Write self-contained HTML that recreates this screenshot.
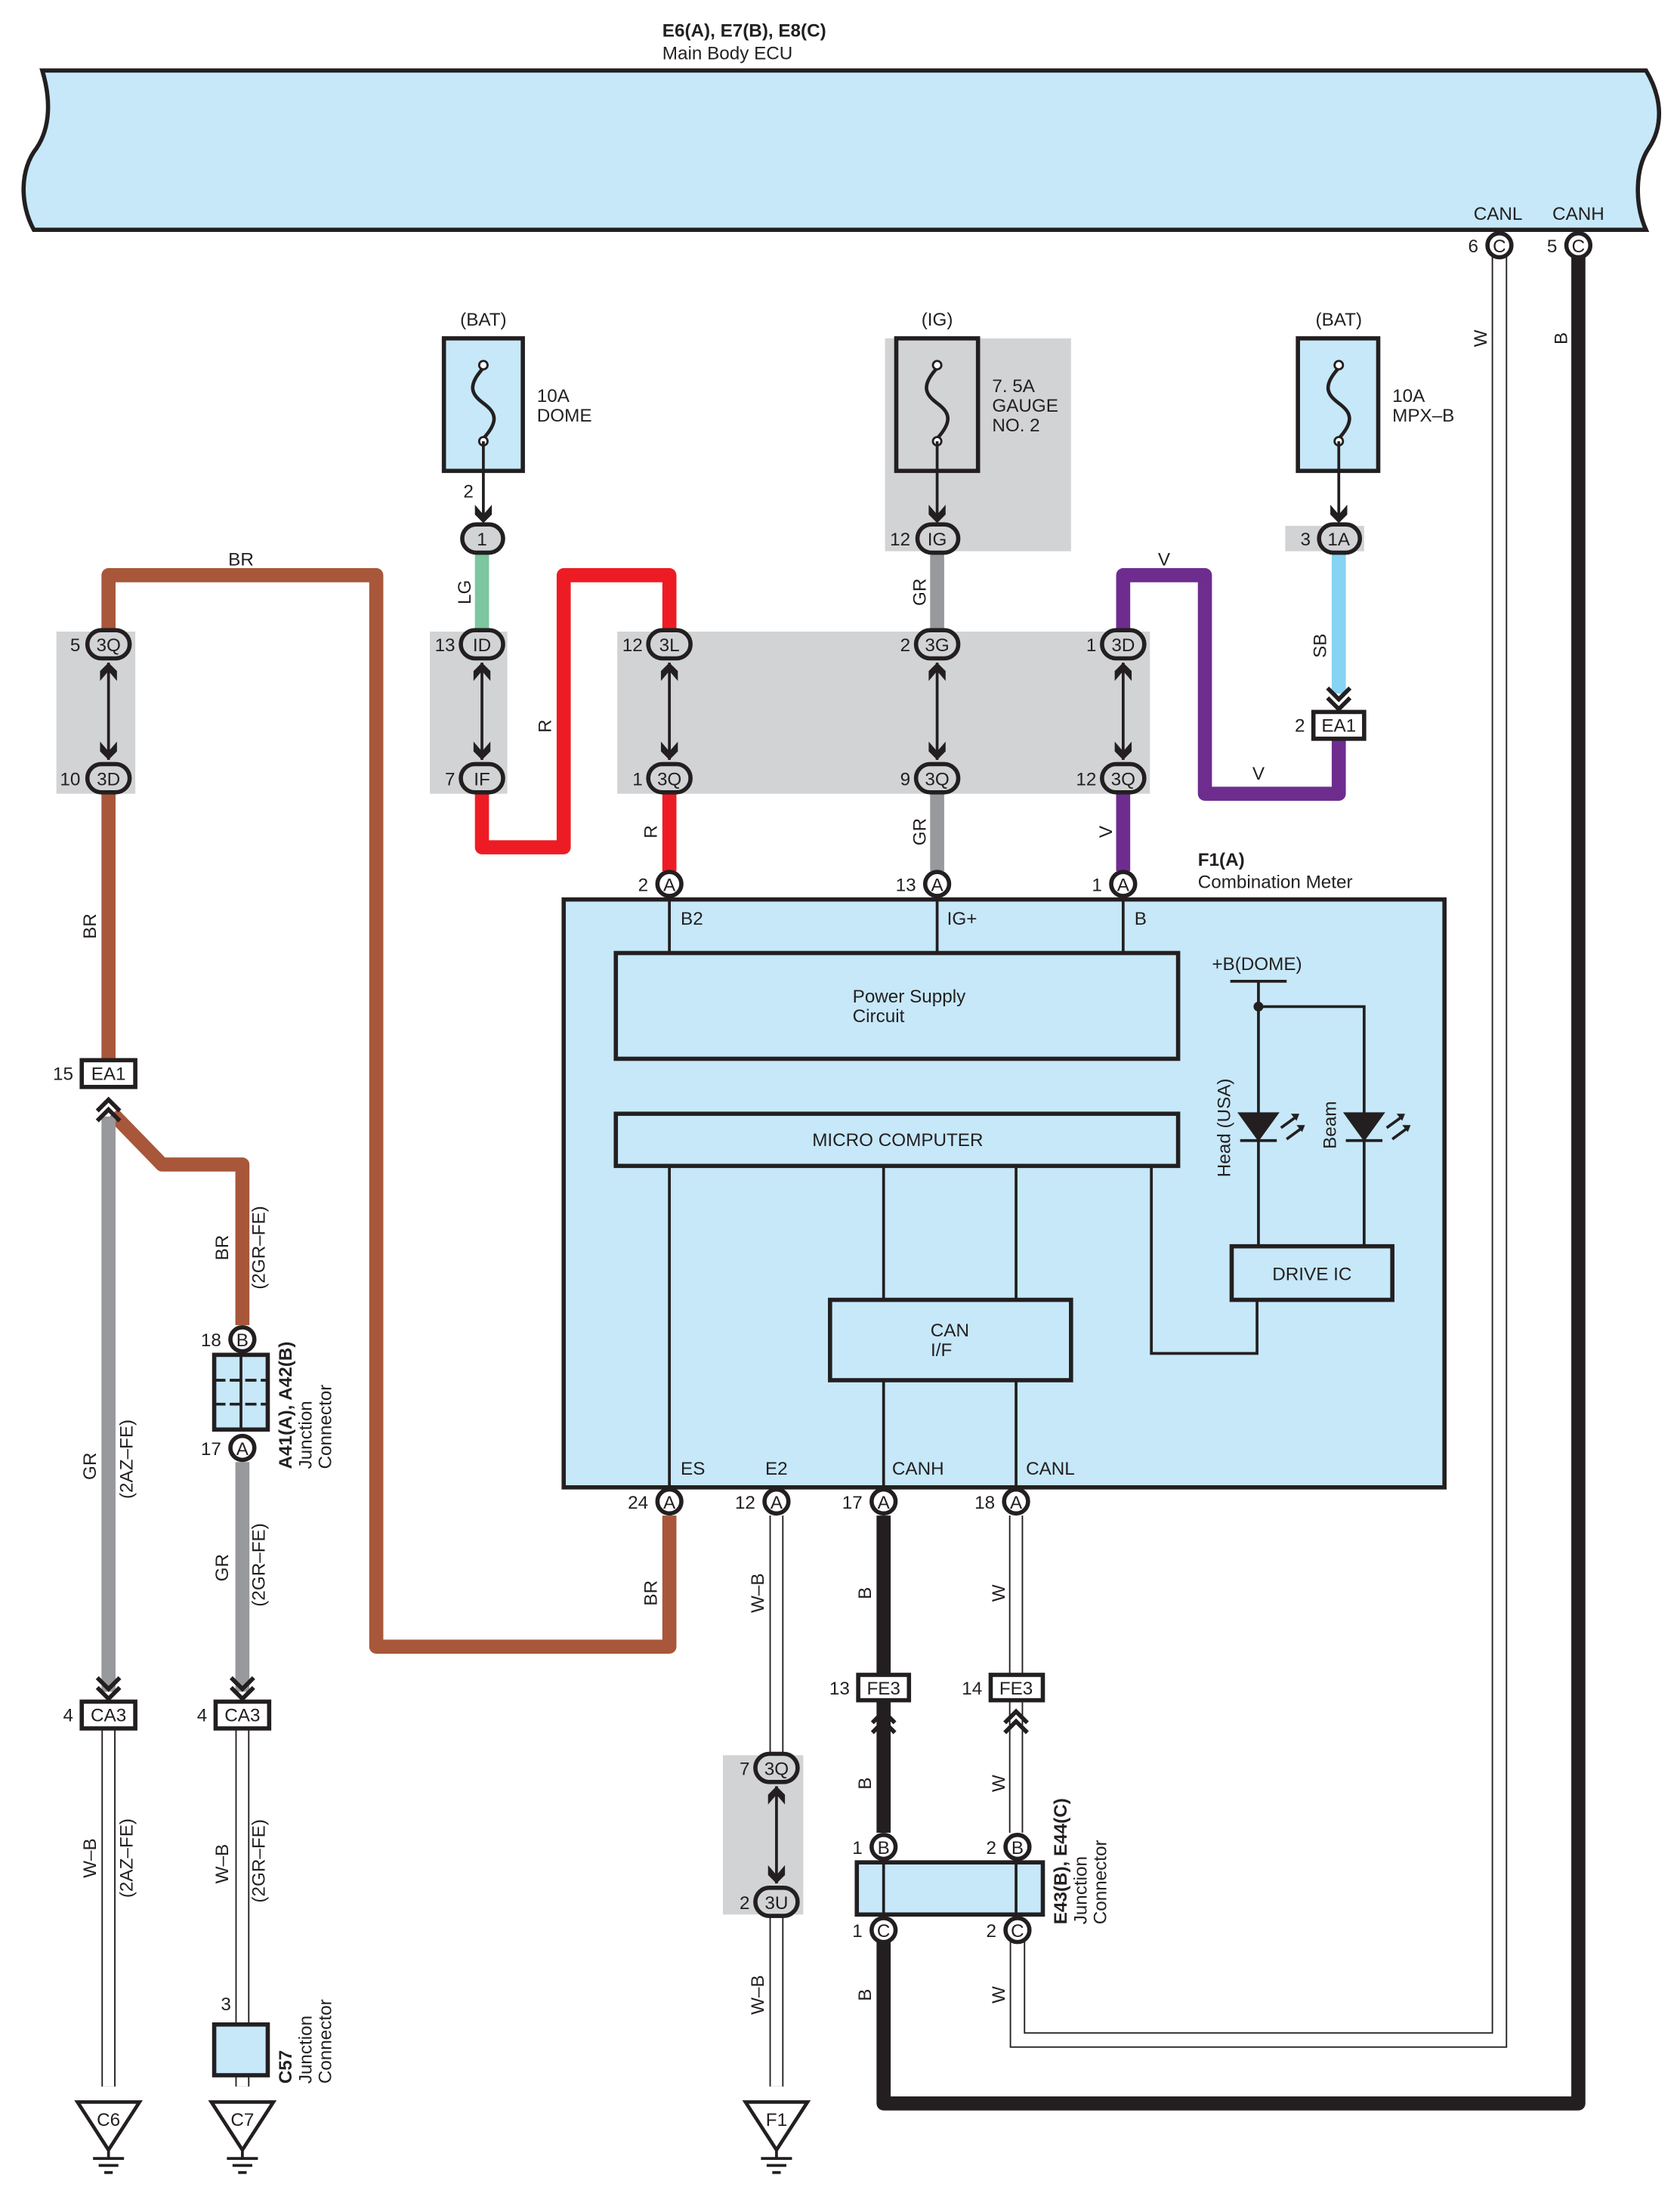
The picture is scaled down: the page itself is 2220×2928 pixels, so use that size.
<!DOCTYPE html>
<html><head><meta charset="utf-8"><style>
html,body{margin:0;padding:0;background:#fff}
svg{display:block}
text{font-family:"Liberation Sans",sans-serif;font-size:13px;fill:#231f20}
.c{text-anchor:middle}
.e{text-anchor:end}
.b{font-weight:bold}
</style></head><body>
<svg width="2220" height="2928" viewBox="0 0 1190 1569" preserveAspectRatio="none" xmlns="http://www.w3.org/2000/svg">
<defs>
<g id="dn"><path d="M-6,-10 L0,-3 L6,-10 L6,-3 L0,3 L-6,-3Z" fill="#231f20"/></g>
<g id="up"><path d="M-6,10 L0,3 L6,10 L6,3 L0,-3 L-6,3Z" fill="#231f20"/></g>
<g id="chd"><path d="M-8,-12 L0,-4 L8,-12 M-8,-5 L0,3 L8,-5" fill="none" stroke="#231f20" stroke-width="3"/></g>
<g id="chu"><path d="M-8,12 L0,4 L8,12 M-8,5 L0,-3 L8,5" fill="none" stroke="#231f20" stroke-width="3"/></g>
<g id="gnd"><path d="M-22,0 L22,0 L0,34Z" fill="#fff" stroke="#231f20" stroke-width="2.5"/><path d="M0,34 V40 M-11,40 H11 M-7,45 H7 M-3,50 H3" stroke="#231f20" stroke-width="2"/></g>
<g id="fuse"><path d="M0,-25 C-12,-12 -8,-6 0,0 C8,6 12,12 0,25" fill="none" stroke="#231f20" stroke-width="2.5"/><circle cx="0" cy="-27" r="3" fill="#fff" stroke="#231f20" stroke-width="1.5"/><circle cx="0" cy="27" r="3" fill="#fff" stroke="#231f20" stroke-width="1.5"/></g>
</defs>

<!-- ECU -->
<text x="470" y="26" class="b">E6(A), E7(B), E8(C)</text>
<text x="470" y="42">Main Body ECU</text>
<path d="M30,50 H1168 C1180,70 1180,90 1170,105 C1160,120 1160,145 1168,163 H24 C14,145 14,120 26,105 C36,90 36,70 30,50Z" fill="#c6e8f9" stroke="#231f20" stroke-width="3"/>
<text x="1063" y="156" class="c">CANL</text>
<text x="1120" y="156" class="c">CANH</text>

<!-- CAN W & B wires -->
<path d="M1064,180 V1447 H722 V1375" fill="none" stroke="#231f20" stroke-width="11"/>
<path d="M1064,180 V1447 H722 V1375" fill="none" stroke="#fff" stroke-width="9"/>
<path d="M1120,180 V1492 H627 V1375" fill="none" stroke="#231f20" stroke-width="10" stroke-linejoin="round"/>
<text transform="translate(1055,240) rotate(-90)" class="c">W</text>
<text transform="translate(1112,240) rotate(-90)" class="c">B</text>
<circle cx="1064" cy="174" r="8.5" fill="#fff" stroke="#231f20" stroke-width="3"/><text x="1064" y="179" class="c">C</text><text x="1049" y="179" class="e">6</text>
<circle cx="1120" cy="174" r="8.5" fill="#fff" stroke="#231f20" stroke-width="3"/><text x="1120" y="179" class="c">C</text><text x="1105" y="179" class="e">5</text>

<!-- gray bands -->
<rect x="628" y="240" width="132" height="151" fill="#d2d3d5"/>
<rect x="912" y="373" width="56" height="18" fill="#d2d3d5"/>
<rect x="40" y="448" width="56" height="115" fill="#d2d3d5"/>
<rect x="305" y="448" width="55" height="115" fill="#d2d3d5"/>
<rect x="438" y="448" width="378" height="115" fill="#d2d3d5"/>
<rect x="513" y="1245" width="57" height="113" fill="#d2d3d5"/>

<!-- fuses -->
<text x="343" y="231" class="c">(BAT)</text>
<rect x="315" y="240" width="56" height="94" fill="#c6e8f9" stroke="#231f20" stroke-width="3"/>
<use href="#fuse" x="343" y="286"/>
<text x="381" y="285">10A</text><text x="381" y="299">DOME</text>
<line x1="343" y1="313" x2="343" y2="368" stroke="#231f20" stroke-width="2"/>
<use href="#dn" x="343" y="368"/>
<text x="336" y="353" class="e">2</text>

<text x="665" y="231" class="c">(IG)</text>
<rect x="636" y="240" width="58" height="94" fill="#d2d3d5" stroke="#231f20" stroke-width="3"/>
<use href="#fuse" x="665" y="286"/>
<text x="704" y="278">7. 5A</text><text x="704" y="292">GAUGE</text><text x="704" y="306">NO. 2</text>
<line x1="665" y1="313" x2="665" y2="368" stroke="#231f20" stroke-width="2"/>
<use href="#dn" x="665" y="368"/>

<text x="950" y="231" class="c">(BAT)</text>
<rect x="921" y="240" width="57" height="94" fill="#c6e8f9" stroke="#231f20" stroke-width="3"/>
<use href="#fuse" x="950" y="286"/>
<text x="988" y="285">10A</text><text x="988" y="299">MPX–B</text>
<line x1="950" y1="313" x2="950" y2="368" stroke="#231f20" stroke-width="2"/>
<use href="#dn" x="950" y="368"/>

<!-- colored wires -->
<g fill="none" stroke-width="10" stroke-linejoin="round">
<path d="M342,392 V448" stroke="#7cc6a0"/>
<path d="M665,392 V448" stroke="#98999c"/>
<path d="M665,562 V618" stroke="#98999c"/>
<path d="M950,392 V492" stroke="#86d3f3"/>
<path d="M797,448 V408 H855 V563 H950 V524" stroke="#6e2d8e"/>
<path d="M797,562 V618" stroke="#6e2d8e"/>
<path d="M342,562 V601 H400 V408 H475 V448" stroke="#ed1c24"/>
<path d="M475,562 V618" stroke="#ed1c24"/>
<path d="M77,448 V408 H267 V1168 H475 V1075" stroke="#a8573a"/>
<path d="M77,562 V752" stroke="#a8573a"/>
<path d="M80,790 L115,826 H172 V940" stroke="#a8573a"/>
<path d="M77,792 V1200" stroke="#98999c"/>
<path d="M172,1037 V1200" stroke="#98999c"/>
</g>
<!-- white wires -->
<g fill="none" stroke-linejoin="miter">
<path d="M77,1226 V1480 M172,1226 V1436 M172,1472 V1480 M551,1075 V1244 M551,1358 V1480 M721,1075 V1188 M721,1206 V1300" stroke="#231f20" stroke-width="10"/>
<path d="M77,1226 V1480 M172,1226 V1436 M172,1472 V1480 M551,1075 V1244 M551,1358 V1480 M721,1075 V1188 M721,1206 V1300" stroke="#fff" stroke-width="8"/>
<path d="M627,1075 V1300" stroke="#231f20" stroke-width="10"/>
</g>

<!-- ovals -->
<g stroke="#231f20" stroke-width="3" fill="#d2d3d5">
<rect x="328" y="372" width="29" height="20" rx="10"/>
<rect x="651" y="372" width="29" height="20" rx="10"/>
<rect x="936" y="372" width="29" height="20" rx="10"/>
<rect x="62" y="447" width="30" height="20" rx="10"/><rect x="62" y="542" width="30" height="20" rx="10"/>
<rect x="327" y="447" width="30" height="20" rx="10"/><rect x="327" y="542" width="30" height="20" rx="10"/>
<rect x="460" y="447" width="30" height="20" rx="10"/><rect x="460" y="542" width="30" height="20" rx="10"/>
<rect x="650" y="447" width="30" height="20" rx="10"/><rect x="650" y="542" width="30" height="20" rx="10"/>
<rect x="782" y="447" width="30" height="20" rx="10"/><rect x="782" y="542" width="30" height="20" rx="10"/>
<rect x="536" y="1244" width="30" height="20" rx="10"/><rect x="536" y="1339" width="30" height="20" rx="10"/>
</g>
<g>
<text x="342" y="387" class="c">1</text>
<text x="665" y="387" class="c">IG</text><text x="646" y="387" class="e">12</text>
<text x="950" y="387" class="c">1A</text><text x="930" y="387" class="e">3</text>
<text x="77" y="462" class="c">3Q</text><text x="57" y="462" class="e">5</text>
<text x="77" y="557" class="c">3D</text><text x="57" y="557" class="e">10</text>
<text x="342" y="462" class="c">ID</text><text x="323" y="462" class="e">13</text>
<text x="342" y="557" class="c">IF</text><text x="323" y="557" class="e">7</text>
<text x="475" y="462" class="c">3L</text><text x="456" y="462" class="e">12</text>
<text x="475" y="557" class="c">3Q</text><text x="456" y="557" class="e">1</text>
<text x="665" y="462" class="c">3G</text><text x="646" y="462" class="e">2</text>
<text x="665" y="557" class="c">3Q</text><text x="646" y="557" class="e">9</text>
<text x="797" y="462" class="c">3D</text><text x="778" y="462" class="e">1</text>
<text x="797" y="557" class="c">3Q</text><text x="778" y="557" class="e">12</text>
<text x="551" y="1259" class="c">3Q</text><text x="532" y="1259" class="e">7</text>
<text x="551" y="1354" class="c">3U</text><text x="532" y="1354" class="e">2</text>
</g>
<!-- double arrows -->
<g stroke="#231f20" stroke-width="2">
<line x1="77" y1="470" x2="77" y2="539"/><line x1="342" y1="470" x2="342" y2="539"/><line x1="475" y1="470" x2="475" y2="539"/><line x1="665" y1="470" x2="665" y2="539"/><line x1="797" y1="470" x2="797" y2="539"/><line x1="551" y1="1267" x2="551" y2="1336"/>
</g>
<use href="#up" x="77" y="473"/><use href="#dn" x="77" y="536"/>
<use href="#up" x="342" y="473"/><use href="#dn" x="342" y="536"/>
<use href="#up" x="475" y="473"/><use href="#dn" x="475" y="536"/>
<use href="#up" x="665" y="473"/><use href="#dn" x="665" y="536"/>
<use href="#up" x="797" y="473"/><use href="#dn" x="797" y="536"/>
<use href="#up" x="551" y="1270"/><use href="#dn" x="551" y="1333"/>

<!-- boxes EA1, CA3, FE3 -->
<use href="#chd" x="950" y="500"/>
<rect x="932" y="505" width="36" height="19" fill="#fff" stroke="#231f20" stroke-width="3"/><text x="950" y="519" class="c">EA1</text><text x="926" y="519" class="e">2</text>
<rect x="58" y="752" width="38" height="19" fill="#fff" stroke="#231f20" stroke-width="3"/><text x="77" y="766" class="c">EA1</text><text x="52" y="766" class="e">15</text>
<use href="#chu" x="77" y="783"/>
<use href="#chd" x="77" y="1202"/><use href="#chd" x="172" y="1202"/>
<rect x="58" y="1207" width="38" height="19" fill="#fff" stroke="#231f20" stroke-width="3"/><text x="77" y="1221" class="c">CA3</text><text x="52" y="1221" class="e">4</text>
<rect x="153" y="1207" width="38" height="19" fill="#fff" stroke="#231f20" stroke-width="3"/><text x="172" y="1221" class="c">CA3</text><text x="147" y="1221" class="e">4</text>
<rect x="609" y="1188" width="36" height="18" fill="#fff" stroke="#231f20" stroke-width="3"/><text x="627" y="1202" class="c">FE3</text><text x="603" y="1202" class="e">13</text>
<rect x="703" y="1188" width="37" height="18" fill="#fff" stroke="#231f20" stroke-width="3"/><text x="721" y="1202" class="c">FE3</text><text x="697" y="1202" class="e">14</text>
<use href="#chu" x="627" y="1217"/><use href="#chu" x="721" y="1217"/>

<!-- A41 junction -->
<rect x="152" y="961" width="38" height="53" fill="#c6e8f9" stroke="#231f20" stroke-width="3"/>
<path d="M152,979 H190 M152,996 H190" stroke="#231f20" stroke-width="2" stroke-dasharray="8,3"/>
<line x1="171" y1="961" x2="171" y2="1014" stroke="#231f20" stroke-width="2"/>
<circle cx="172" cy="950" r="8.5" fill="#fff" stroke="#231f20" stroke-width="3"/><text x="172" y="955" class="c">B</text><text x="157" y="955" class="e">18</text>
<circle cx="172" cy="1027" r="8.5" fill="#fff" stroke="#231f20" stroke-width="3"/><text x="172" y="1032" class="c">A</text><text x="157" y="1032" class="e">17</text>
<text transform="translate(207,1042) rotate(-90)" class="b">A41(A), A42(B)</text>
<text transform="translate(221,1042) rotate(-90)">Junction</text>
<text transform="translate(235,1042) rotate(-90)">Connector</text>

<!-- C57 -->
<rect x="152" y="1436" width="38" height="36" fill="#c6e8f9" stroke="#231f20" stroke-width="3"/>
<text x="164" y="1426" class="e">3</text>
<text transform="translate(207,1478) rotate(-90)" class="b">C57</text>
<text transform="translate(221,1478) rotate(-90)">Junction</text>
<text transform="translate(235,1478) rotate(-90)">Connector</text>

<!-- grounds -->
<use href="#gnd" x="77" y="1491"/><text x="77" y="1508" class="c">C6</text>
<use href="#gnd" x="172" y="1491"/><text x="172" y="1508" class="c">C7</text>
<use href="#gnd" x="551" y="1491"/><text x="551" y="1508" class="c">F1</text>

<!-- Combination meter -->
<text x="850" y="614" class="b">F1(A)</text>
<text x="850" y="630">Combination Meter</text>
<rect x="400" y="638" width="625" height="417" fill="#c6e8f9" stroke="#231f20" stroke-width="3"/>
<g stroke="#231f20" stroke-width="2" fill="none">
<path d="M475,638 V676 M665,638 V676 M797,638 V676"/>
<path d="M475,827 V1055 M627,827 V922 M721,827 V922 M627,979 V1055 M721,979 V1055"/>
<path d="M817,827 V960 H892 V922"/>
<path d="M873,696 H913 M893,696 V884 M893,714 H968 V884"/>
</g>
<rect x="437" y="676" width="399" height="75" fill="none" stroke="#231f20" stroke-width="3"/>
<rect x="437" y="790" width="399" height="37" fill="none" stroke="#231f20" stroke-width="3"/>
<rect x="589" y="922" width="171" height="57" fill="none" stroke="#231f20" stroke-width="3"/>
<rect x="874" y="884" width="114" height="38" fill="none" stroke="#231f20" stroke-width="3"/>
<circle cx="893" cy="714" r="3.5" fill="#231f20"/>
<path d="M880,790 H906 L893,808Z M880,809 H906 M955,790 H981 L968,808Z M955,809 H981" fill="#231f20" stroke="#231f20" stroke-width="2"/>
<path d="M909,800 L920,792 M913,808 L924,800 M984,800 L995,792 M988,808 L999,800" stroke="#231f20" stroke-width="2"/>
<path d="M922,790 l-6,0 l4,5z M926,798 l-6,0 l4,5z M997,790 l-6,0 l4,5z M1001,798 l-6,0 l4,5z" fill="#231f20"/>
<text x="483" y="656">B2</text><text x="672" y="656">IG+</text><text x="805" y="656">B</text>
<text x="605" y="711">Power Supply</text><text x="605" y="725">Circuit</text>
<text x="637" y="813" class="c">MICRO COMPUTER</text>
<text x="674" y="948" class="c">CAN</text><text x="668" y="962" class="c">I/F</text>
<text x="931" y="908" class="c">DRIVE IC</text>
<text x="860" y="688">+B(DOME)</text>
<text transform="translate(873,835) rotate(-90)">Head (USA)</text>
<text transform="translate(948,815) rotate(-90)">Beam</text>
<text x="483" y="1046">ES</text><text x="543" y="1046">E2</text><text x="633" y="1046">CANH</text><text x="728" y="1046">CANL</text>

<!-- meter terminals -->
<g>
<circle cx="475" cy="627" r="8.5" fill="#fff" stroke="#231f20" stroke-width="3"/><text x="475" y="632" class="c">A</text><text x="460" y="632" class="e">2</text>
<circle cx="665" cy="627" r="8.5" fill="#fff" stroke="#231f20" stroke-width="3"/><text x="665" y="632" class="c">A</text><text x="650" y="632" class="e">13</text>
<circle cx="797" cy="627" r="8.5" fill="#fff" stroke="#231f20" stroke-width="3"/><text x="797" y="632" class="c">A</text><text x="782" y="632" class="e">1</text>
<circle cx="475" cy="1065" r="8.5" fill="#fff" stroke="#231f20" stroke-width="3"/><text x="475" y="1070" class="c">A</text><text x="460" y="1070" class="e">24</text>
<circle cx="551" cy="1065" r="8.5" fill="#fff" stroke="#231f20" stroke-width="3"/><text x="551" y="1070" class="c">A</text><text x="536" y="1070" class="e">12</text>
<circle cx="627" cy="1065" r="8.5" fill="#fff" stroke="#231f20" stroke-width="3"/><text x="627" y="1070" class="c">A</text><text x="612" y="1070" class="e">17</text>
<circle cx="721" cy="1065" r="8.5" fill="#fff" stroke="#231f20" stroke-width="3"/><text x="721" y="1070" class="c">A</text><text x="706" y="1070" class="e">18</text>
</g>

<!-- E43/E44 -->
<rect x="608" y="1321" width="132" height="37" fill="#c6e8f9" stroke="#231f20" stroke-width="3"/>
<path d="M627,1321 V1358 M721,1321 V1358" stroke="#231f20" stroke-width="2"/>
<circle cx="627" cy="1310" r="8.5" fill="#fff" stroke="#231f20" stroke-width="3"/><text x="627" y="1315" class="c">B</text><text x="612" y="1315" class="e">1</text>
<circle cx="722" cy="1310" r="8.5" fill="#fff" stroke="#231f20" stroke-width="3"/><text x="722" y="1315" class="c">B</text><text x="707" y="1315" class="e">2</text>
<circle cx="627" cy="1369" r="8.5" fill="#fff" stroke="#231f20" stroke-width="3"/><text x="627" y="1374" class="c">C</text><text x="612" y="1374" class="e">1</text>
<circle cx="722" cy="1369" r="8.5" fill="#fff" stroke="#231f20" stroke-width="3"/><text x="722" y="1374" class="c">C</text><text x="707" y="1374" class="e">2</text>
<text transform="translate(757,1365) rotate(-90)" class="b">E43(B), E44(C)</text>
<text transform="translate(771,1365) rotate(-90)">Junction</text>
<text transform="translate(785,1365) rotate(-90)">Connector</text>

<!-- wire labels -->
<text x="171" y="401" class="c">BR</text>
<text x="826" y="401" class="c">V</text>
<text x="893" y="553" class="c">V</text>
<g class="c">
<text transform="translate(334,420) rotate(-90)" class="c">LG</text>
<text transform="translate(391,515) rotate(-90)" class="c">R</text>
<text transform="translate(657,420) rotate(-90)" class="c">GR</text>
<text transform="translate(941,458) rotate(-90)" class="c">SB</text>
<text transform="translate(466,590) rotate(-90)" class="c">R</text>
<text transform="translate(657,590) rotate(-90)" class="c">GR</text>
<text transform="translate(789,590) rotate(-90)" class="c">V</text>
<text transform="translate(68,657) rotate(-90)" class="c">BR</text>
<text transform="translate(162,885) rotate(-90)" class="c">BR</text>
<text transform="translate(188,885) rotate(-90)" class="c">(2GR–FE)</text>
<text transform="translate(68,1040) rotate(-90)" class="c">GR</text>
<text transform="translate(94,1035) rotate(-90)" class="c">(2AZ–FE)</text>
<text transform="translate(162,1112) rotate(-90)" class="c">GR</text>
<text transform="translate(188,1110) rotate(-90)" class="c">(2GR–FE)</text>
<text transform="translate(68,1318) rotate(-90)" class="c">W–B</text>
<text transform="translate(94,1318) rotate(-90)" class="c">(2AZ–FE)</text>
<text transform="translate(162,1322) rotate(-90)" class="c">W–B</text>
<text transform="translate(188,1320) rotate(-90)" class="c">(2GR–FE)</text>
<text transform="translate(466,1130) rotate(-90)" class="c">BR</text>
<text transform="translate(542,1130) rotate(-90)" class="c">W–B</text>
<text transform="translate(542,1415) rotate(-90)" class="c">W–B</text>
<text transform="translate(618,1130) rotate(-90)" class="c">B</text>
<text transform="translate(713,1130) rotate(-90)" class="c">W</text>
<text transform="translate(618,1265) rotate(-90)" class="c">B</text>
<text transform="translate(713,1265) rotate(-90)" class="c">W</text>
<text transform="translate(618,1415) rotate(-90)" class="c">B</text>
<text transform="translate(713,1415) rotate(-90)" class="c">W</text>
</g>
</svg>
</body></html>
